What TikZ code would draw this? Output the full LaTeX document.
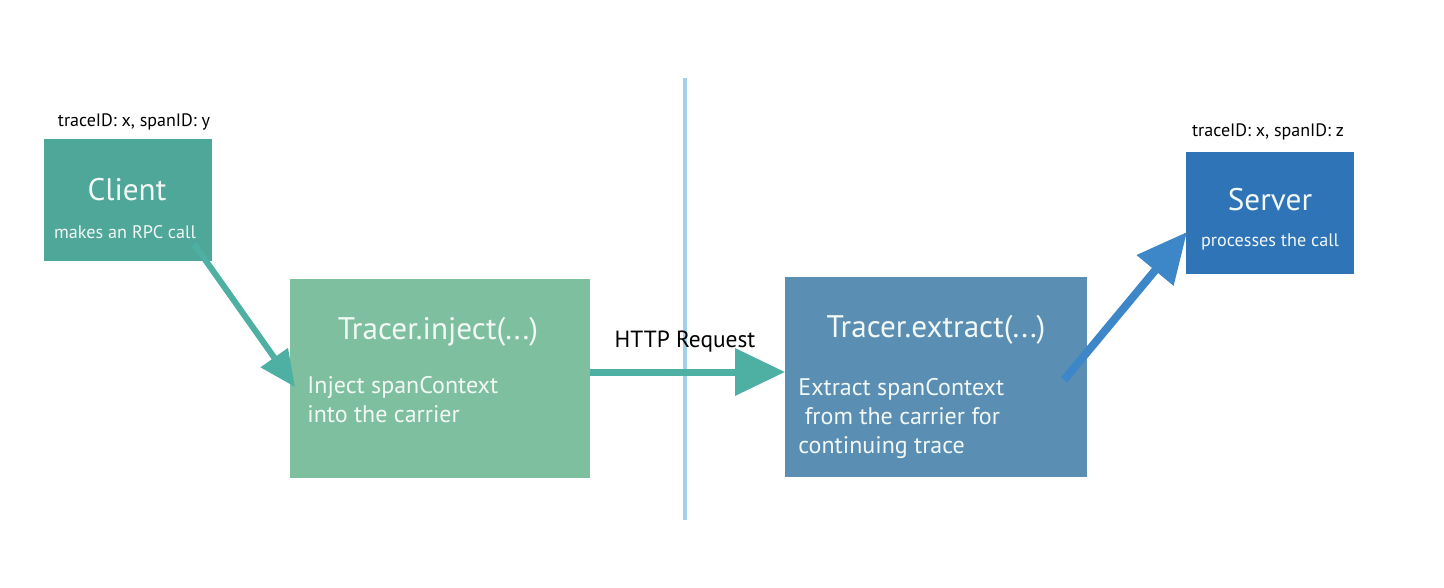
\documentclass[tikz,border=0pt]{standalone}
\usepackage{fontspec}
\setmainfont{PT Sans}
\usetikzlibrary{arrows.meta}
\definecolor{clientc}{HTML}{4FA79A}
\definecolor{injectc}{HTML}{7EBF9F}
\definecolor{extractc}{HTML}{5A8FB3}
\definecolor{serverc}{HTML}{2F74B7}
\definecolor{tealarrow}{HTML}{4DB0A3}
\definecolor{bluearrow}{HTML}{3D87C8}
\definecolor{divc}{HTML}{A2D0EB}
\definecolor{txtc}{HTML}{F2F8F5}
\tikzset{
  box/.style={rectangle, inner sep=0pt, anchor=north west},
  title/.style={text=txtc, font=\fontsize{15.6}{18}\selectfont, inner sep=0pt},
  small/.style={text=txtc, font=\fontsize{9.1}{11}\selectfont, inner sep=0pt},
  body/.style={text=txtc, font=\fontsize{12}{14.5}\selectfont, inner sep=0pt, align=left, anchor=north west},
  idlabel/.style={text=black, font=\fontsize{9}{11}\selectfont, inner sep=0pt},
  bigarrow/.style={line width=3.5pt, -{Triangle[length=25pt,width=23pt]}},
  smallarrow/.style={line width=3pt, -{Triangle[length=18pt,width=16pt]}},
}
\begin{document}
\begin{tikzpicture}[x=0.5pt,y=-0.5pt]
\useasboundingbox[fill=white] (0,0) rectangle (1444,588);
% divider
\draw[divc, line width=2pt] (685,78) -- (685,520);
% boxes
\node[box, fill=clientc, minimum width=84pt, minimum height=61pt] (client) at (44,139) {};
\node[box, fill=injectc, minimum width=150pt, minimum height=99.5pt] (inject) at (290,279) {};
\node[box, fill=extractc, minimum width=151pt, minimum height=100pt] (extract) at (785,277) {};
\node[box, fill=serverc, minimum width=84pt, minimum height=61pt] (server) at (1186,152) {};
% texts
\node[idlabel] (clab) at (134,122) {traceID: x, spanID: y};
\node[idlabel] (slab) at (1268,132) {traceID: x, spanID: z};
\node[title] (ctitle) at (127,190) {Client};
\node[small] (csub) at (125,232) {makes an RPC call};
\node[title] (stitle) at (1270,200) {Server};
\node[small] (ssub) at (1270,242) {processes the call};
\node[title] (ititle) at (438,332) {Tracer.inject(...)};
\node[body] (ibody) at (307,376) {Inject spanContext\\into the carrier};
\node[body] (ebody) at (798,378) {Extract spanContext\\\ from the carrier for\\continuing trace};
\node[title] (etitle) at (936,330) {Tracer.extract(...)};
% arrows
\coordinate (a1s) at (194,244);
\coordinate (a1e) at (295,387);
\draw[smallarrow, tealarrow] (a1s) -- (a1e);
\coordinate (a2s) at (590,372);
\draw[bigarrow, tealarrow] (a2s) -- (extract.west |- a2s);
\node[idlabel, font=\fontsize{11.7}{14}\selectfont] (http) at (685,342) {HTTP Request};
\coordinate (a3s) at (1064,380);
\coordinate (a3e) at (1187,232);
\draw[bigarrow, bluearrow, line width=4pt] (a3s) -- (a3e);
\end{tikzpicture}
\end{document}
